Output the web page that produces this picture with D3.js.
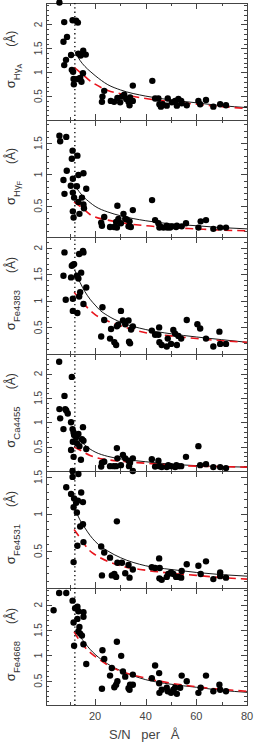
<!DOCTYPE html>
<html>
<head>
<meta charset="utf-8">
<script src="https://cdn.jsdelivr.net/npm/d3@7"></script>
<style>
    body { margin: 0; background: #fff; }
    svg { display: block; }
    .frame { fill: none; stroke: #444; stroke-width: 1; shape-rendering: crispEdges; }
    .tick line { stroke: #444; shape-rendering: crispEdges; }
    .ylab { font-family: "Liberation Sans Narrow", "Liberation Sans", sans-serif; font-size: 10px; fill: #444; }
    .xlab { font-family: "Liberation Sans", sans-serif; font-size: 11px; fill: #444; }
    .title { font-family: "Liberation Sans", sans-serif; fill: #333; }
</style>
</head>
<body>
<div id="chart"></div>
<script>
// ---- data ----
var xDomain = [0.6, 80];
var xMajorTicks = [20, 40, 60, 80];
var xMinorTicks = [10, 30, 50, 70];
var snLimit = 12;

var indexNames = ["Hγ", "Hγ", "Fe4383", "Ca4455", "Fe4531", "Fe4668"];
var indexSubs = ["A", "F", "", "", "", ""];
var yDomains = [[0, 2.45], [0, 1.87], [0, 2.2], [0, 2.4], [0, 1.58], [0.02, 2.33]];
var yTickLabels = [
    ["0.5", "1", "1.5", "2"],
    ["0.5", "1", "1.5"],
    ["0.5", "1", "1.5", "2"],
    ["0.5", "1", "1.5", "2"],
    ["0.5", "1", "1.5"],
    ["0.5", "1", "1.5", "2"]
];

var ptsHgA = [[5.9,2.46],[7.8,2.05],[11.1,2.09],[12.5,2.08],[13.2,2.04],[7.5,1.64],[8.9,1.74],[10.5,1.36],
    [8.5,1.26],[7.8,1.15],[13.4,1.39],[15.3,1.45],[16.3,1.37],[14.3,1.35],[10.8,1.05],[11.3,1.01],[11.5,0.86],
    [11.6,0.75],[13.2,0.86],[14.1,0.88],[14.6,0.8],[15.2,0.98],
    [22.7,0.38],[22.9,0.49],[23.6,0.61],[26.2,0.40],[27.5,0.38],[28.8,0.46],[29.9,0.37],[30.6,0.49],[31.5,0.53],
    [32.3,0.44],[33.2,0.38],[33.6,0.31],[33.8,0.47],[34.9,0.40],[34.9,0.72],[42.6,0.82],[43.7,0.45],[45.0,0.45],
    [45.4,0.33],[46.0,0.28],[46.7,0.33],[48.7,0.45],[48.3,0.30],[50.3,0.37],[51.6,0.40],[52.3,0.30],[52.9,0.44],
    [54.0,0.40],[54.2,0.35],[56.2,0.31],[60.8,0.40],[61.5,0.33],[63.8,0.42],[66.7,0.28],[69.4,0.33],[71.7,0.31]];
var ptsHgF = [[5.9,1.62],[6.2,1.53],[8.6,1.6],[11.1,1.38],[10.8,1.25],[13.0,1.30],[8.8,1.06],[7.5,0.91],
    [7.9,0.69],[11.2,0.93],[13.4,0.99],[15.4,1.02],[10.4,0.82],[11.2,0.71],[12.8,0.81],[11.7,0.63],[13.4,0.56],
    [13.8,0.37],[14.8,0.63],[15.4,0.52],[15.6,0.46],[16.5,0.77],[11.2,0.41],[11.5,0.31],
    [22.4,0.23],[22.7,0.18],[23.6,0.32],[25.9,0.16],[27.5,0.16],[28.3,0.24],[28.6,0.15],[28.8,0.50],[29.2,0.29],
    [30.2,0.22],[31.2,0.37],[31.9,0.29],[32.5,0.28],[33.2,0.17],[33.6,0.25],[34.1,0.16],[34.9,0.43],[42.5,0.59],
    [43.7,0.27],[45.0,0.22],[45.4,0.15],[45.7,0.17],[47.0,0.15],[48.3,0.18],[48.5,0.15],[49.6,0.15],[50.3,0.17],
    [52.0,0.16],[52.3,0.18],[54.2,0.17],[55.9,0.22],[60.8,0.15],[61.7,0.25],[63.8,0.27],[66.7,0.13],[69.4,0.15],
    [71.7,0.15]];
var ptsFe4383 = [[7.9,1.91],[7.5,1.47],[8.4,1.02],[10.5,1.44],[10.8,1.66],[11.3,1.68],[11.7,1.69],[11.2,1.04],
    [11.2,0.81],[13.0,0.77],[12.8,1.47],[13.4,1.42],[13.7,1.88],[15.2,1.94],[15.4,1.91],[14.5,1.53],[14.1,1.16],
    [13.7,1.08],[15.4,0.94],[16.5,1.25],
    [22.4,0.33],[22.9,0.88],[23.6,0.64],[25.9,0.29],[26.3,0.47],[27.6,0.22],[28.3,0.17],[28.6,0.52],[29.1,0.55],
    [30.2,0.81],[31.0,0.63],[31.9,0.56],[33.2,0.63],[33.4,0.23],[33.8,0.20],[34.2,0.46],[34.9,0.52],[42.4,0.44],
    [43.7,0.36],[45.0,0.36],[45.3,0.50],[45.4,0.22],[46.3,0.17],[48.3,0.14],[48.7,0.29],[50.0,0.19],[50.9,0.45],
    [51.6,0.38],[52.3,0.17],[52.9,0.34],[54.0,0.29],[56.2,0.64],[60.4,0.56],[61.5,0.48],[63.8,0.29],[66.7,0.14],
    [69.1,0.42],[69.4,0.19],[71.7,0.19]];
var ptsCa4455 = [[5.8,2.24],[10.8,1.93],[5.9,1.27],[6.2,1.08],[8.2,1.27],[8.6,1.24],[7.9,1.54],[9.2,1.18],
    [7.5,0.86],[10.5,1.0],[11.1,0.86],[11.5,0.79],[11.7,0.74],[11.2,0.60],[10.5,0.43],[11.5,0.29],[12.5,0.69],
    [13.4,0.76],[12.8,0.57],[13.8,0.51],[14.4,0.23],[15.2,0.90],[14.8,0.65],[15.4,0.62],[16.5,0.45],
    [22.4,0.09],[22.7,0.17],[23.6,0.19],[25.9,0.10],[27.3,0.10],[28.3,0.10],[28.6,0.47],[28.8,0.26],[30.2,0.12],
    [31.0,0.33],[31.9,0.26],[33.2,0.21],[33.4,0.10],[33.8,0.17],[34.9,0.26],[34.9,0.0],[42.4,0.24],[43.7,0.09],
    [45.0,0.21],[45.4,0.10],[46.3,0.08],[48.3,0.08],[48.9,0.12],[50.0,0.10],[51.6,0.08],[52.1,0.12],[52.9,0.10],
    [54.0,0.10],[55.9,0.29],[60.8,0.51],[61.5,0.12],[63.8,0.14],[66.7,0.08],[69.4,0.08],[71.7,0.06]];
var ptsFe4531 = [[11.1,1.58],[11.1,1.50],[13.4,1.54],[8.6,1.36],[10.5,1.27],[14.5,1.29],[11.7,1.21],[13.2,1.18],
    [15.2,1.16],[11.5,1.09],[12.8,1.02],[12.5,1.15],[14.1,0.83],[15.2,0.86],[15.4,0.62],[13.0,0.57],[11.5,0.35],
    [22.4,0.56],[23.6,0.48],[22.7,0.17],[25.9,0.41],[26.6,0.17],[27.6,0.19],[28.3,0.15],[28.6,0.90],[28.8,0.34],
    [30.6,0.34],[31.9,0.20],[33.2,0.31],[33.6,0.14],[34.9,0.25],[42.4,0.28],[43.7,0.27],[45.3,0.40],[45.5,0.27],
    [45.4,0.13],[46.3,0.11],[48.3,0.15],[48.9,0.19],[50.0,0.21],[50.9,0.19],[52.0,0.15],[52.9,0.15],[54.0,0.14],
    [54.2,0.23],[56.2,0.32],[60.8,0.30],[61.7,0.19],[63.8,0.36],[66.7,0.12],[69.4,0.21],[69.4,0.16],[71.7,0.14]];
var ptsFe4668 = [[5.8,2.23],[8.6,2.23],[11.1,2.08],[3.6,1.89],[12.1,1.93],[13.0,1.96],[13.4,1.87],[11.5,1.65],
    [13.0,1.72],[15.4,1.85],[15.4,1.76],[13.8,1.56],[13.4,1.47],[14.1,1.43],[14.8,1.39],[11.7,1.19],[15.4,1.22],
    [16.5,0.83],
    [22.7,0.34],[22.9,1.10],[23.6,0.93],[25.9,0.60],[26.6,0.75],[27.6,0.37],[28.3,0.42],[28.6,1.27],[28.8,0.49],
    [30.3,0.99],[31.0,0.68],[31.9,0.58],[33.2,0.35],[33.6,0.32],[33.8,0.42],[34.9,0.42],[34.9,0.62],[42.4,0.55],
    [43.7,0.80],[45.3,0.65],[45.3,0.45],[45.4,0.26],[46.3,0.32],[48.3,0.36],[48.7,0.29],[50.0,0.26],[50.9,0.32],
    [51.6,0.36],[52.3,0.24],[53.6,0.36],[54.2,0.60],[56.2,0.49],[60.8,0.26],[61.7,0.36],[63.8,0.60],[66.7,0.29],
    [69.1,0.42],[69.4,0.32],[71.7,0.29]];

// solid black curves
var fitHgA = [[12.1,1.43],[14,1.25],[16,1.12],[18,1.02],[20,0.93],[25,0.74],[30,0.63],[40,0.5],[50,0.42],[60,0.36],[70,0.3],[80,0.26]];
var fitHgF = [[12.5,0.79],[15,0.66],[18,0.55],[20,0.49],[25,0.4],[30,0.34],[40,0.26],[50,0.21],[60,0.18],[70,0.15],[80,0.13]];
var fitFe4383 = [[12.1,1.56],[14,1.35],[16,1.17],[18,1.03],[20,0.92],[22,0.82],[25,0.72],[30,0.6],[40,0.46],[50,0.38],[60,0.32],[70,0.27],[80,0.22]];
var fitCa4455 = [[12.5,0.74],[14,0.63],[16,0.53],[18,0.45],[20,0.39],[25,0.3],[30,0.25],[40,0.19],[50,0.14],[60,0.11],[70,0.09],[80,0.08]];
var fitFe4531 = [[12.5,1.03],[14,0.92],[16,0.81],[18,0.71],[20,0.63],[25,0.5],[30,0.41],[40,0.3],[50,0.25],[60,0.21],[70,0.18],[80,0.16]];
var fitFe4668 = [[12.5,1.49],[14,1.38],[16,1.24],[18,1.12],[20,1.02],[25,0.83],[30,0.7],[40,0.52],[50,0.43],[60,0.37],[70,0.31],[80,0.27]];

// dashed red curves
var redHgA = [[11.8,1.1],[15,0.96],[18,0.82],[20,0.75],[25,0.62],[30,0.55],[40,0.45],[50,0.38],[60,0.33],[70,0.28],[80,0.24]];
var redHgF = [[11.7,0.56],[15,0.46],[18,0.36],[20,0.32],[25,0.27],[30,0.23],[40,0.18],[50,0.15],[60,0.13],[70,0.11],[80,0.1]];
var redFe4383 = [[11.7,1.16],[14,1.03],[16,0.92],[18,0.82],[20,0.74],[25,0.62],[30,0.53],[40,0.40],[50,0.34],[60,0.29],[70,0.25],[80,0.22]];
var redCa4455 = [[11.7,0.49],[14,0.43],[16,0.37],[18,0.32],[20,0.28],[25,0.23],[30,0.2],[40,0.16],[50,0.12],[60,0.1],[70,0.09],[80,0.08]];
var redFe4531 = [[11.7,0.79],[14,0.68],[16,0.58],[18,0.5],[20,0.45],[25,0.36],[30,0.3],[40,0.24],[50,0.2],[60,0.17],[70,0.14],[80,0.12]];
var redFe4668 = [[11.7,1.47],[14,1.28],[16,1.16],[18,1.06],[20,0.98],[25,0.81],[30,0.69],[40,0.55],[50,0.45],[60,0.38],[70,0.33],[80,0.29]];

var panelPoints = [ptsHgA, ptsHgF, ptsFe4383, ptsCa4455, ptsFe4531, ptsFe4668];
var panelFits = [fitHgA, fitHgF, fitFe4383, fitCa4455, fitFe4531, fitFe4668];
var panelReds = [redHgA, redHgF, redFe4383, redCa4455, redFe4531, redFe4668];

// ---- layout ----
var width = 254, height = 744;
var plotLeft = 46, plotRight = 247, plotTop = 3, panelH = 117;
var nPanels = indexNames.length;

var svg = d3.select("#chart").append("svg")
    .attr("width", width)
    .attr("height", height);

var x = d3.scaleLinear().domain(xDomain).range([plotLeft, plotRight]);

function cleanAxis(sel) {
    sel.select(".domain").remove();
    sel.selectAll("text").remove();
}

indexNames.forEach(function (name, i) {
    var top = plotTop + i * panelH,
        bottom = top + panelH,
        dom = yDomains[i];

    var y = d3.scaleLinear().domain(dom).range([bottom, top]);
    var g = svg.append("g");

    var major = d3.range(0, dom[1] + 1e-9, 0.5).filter(function (v) { return v >= dom[0]; });
    var minor = d3.range(0, dom[1] + 1e-9, 0.1).filter(function (v) { return v >= dom[0]; });

    // y ticks, both sides, pointing inward
    g.append("g").attr("transform", "translate(" + plotLeft + ",0)")
        .call(d3.axisLeft(y).tickValues(minor).tickSize(-3)).call(cleanAxis);
    g.append("g").attr("transform", "translate(" + plotLeft + ",0)")
        .call(d3.axisLeft(y).tickValues(major).tickSize(-6)).call(cleanAxis);
    g.append("g").attr("transform", "translate(" + plotRight + ",0)")
        .call(d3.axisRight(y).tickValues(minor).tickSize(-3)).call(cleanAxis);
    g.append("g").attr("transform", "translate(" + plotRight + ",0)")
        .call(d3.axisRight(y).tickValues(major).tickSize(-6)).call(cleanAxis);

    // x ticks on top and bottom of each panel
    g.append("g").attr("transform", "translate(0," + top + ")")
        .call(d3.axisTop(x).tickValues(xMinorTicks).tickSize(-3)).call(cleanAxis);
    g.append("g").attr("transform", "translate(0," + top + ")")
        .call(d3.axisTop(x).tickValues(xMajorTicks).tickSize(-6)).call(cleanAxis);
    g.append("g").attr("transform", "translate(0," + bottom + ")")
        .call(d3.axisBottom(x).tickValues(xMinorTicks).tickSize(-3)).call(cleanAxis);
    g.append("g").attr("transform", "translate(0," + bottom + ")")
        .call(d3.axisBottom(x).tickValues(xMajorTicks).tickSize(-6)).call(cleanAxis);

    g.append("rect")
        .attr("class", "frame")
        .attr("x", plotLeft)
        .attr("y", top)
        .attr("width", plotRight - plotLeft)
        .attr("height", panelH);

    // rotated tick labels
    g.selectAll(".ylab")
        .data(yTickLabels[i])
        .enter().append("text")
        .attr("class", "ylab")
        .attr("text-anchor", "middle")
        .attr("transform", function (d) {
            return "translate(41.5," + y(+d) + ") rotate(-90)";
        })
        .text(function (d) { return d; });

    // axis title
    var t = g.append("text")
        .attr("class", "title")
        .attr("text-anchor", "middle")
        .attr("transform", "translate(15," + ((top + bottom) / 2 - 2) + ") rotate(-90)");
    t.append("tspan").style("font-size", "13px").text("σ");
    t.append("tspan").style("font-size", "9.5px").attr("dy", 5).text(name);
    if (indexSubs[i]) {
        t.append("tspan").style("font-size", "7px").attr("dy", 2).text(indexSubs[i]);
    }
    t.append("tspan").style("font-size", "12px")
        .attr("dy", indexSubs[i] ? -7 : -5)
        .attr("dx", 17)
        .text("(Å)");

    var line = d3.line()
        .x(function (d) { return x(d[0]); })
        .y(function (d) { return y(d[1]); })
        .curve(d3.curveMonotoneX);

    g.append("path")
        .datum(panelFits[i])
        .attr("fill", "none")
        .attr("stroke", "#000")
        .attr("stroke-width", 0.9)
        .attr("d", line);

    g.append("path")
        .datum(panelReds[i])
        .attr("fill", "none")
        .attr("stroke", "#e8141c")
        .attr("stroke-width", 1.6)
        .attr("stroke-dasharray", "8,5")
        .attr("d", line);

    g.selectAll("circle")
        .data(panelPoints[i])
        .enter().append("circle")
        .attr("cx", function (d) { return x(d[0]); })
        .attr("cy", function (d) { return y(d[1]); })
        .attr("r", 3.2)
        .attr("fill", "#000");
});

// S/N cut, dotted through all panels
svg.append("line")
    .attr("x1", x(snLimit)).attr("x2", x(snLimit))
    .attr("y1", plotTop).attr("y2", plotTop + nPanels * panelH)
    .attr("stroke", "#000")
    .attr("stroke-width", 1.3)
    .attr("stroke-dasharray", "1.3,3");

// bottom x tick labels and title
var bottomY = plotTop + nPanels * panelH;
svg.selectAll(".xlab")
    .data(xMajorTicks)
    .enter().append("text")
    .attr("class", "xlab")
    .attr("text-anchor", "middle")
    .attr("x", function (d) { return x(d); })
    .attr("y", bottomY + 15)
    .text(function (d) { return d; });

svg.append("text")
    .attr("class", "title")
    .attr("x", 109)
    .attr("y", bottomY + 34)
    .style("font-size", "13px")
    .style("word-spacing", "7px")
    .style("fill", "#444")
    .text("S/N per Å");
</script>
</body>
</html>
